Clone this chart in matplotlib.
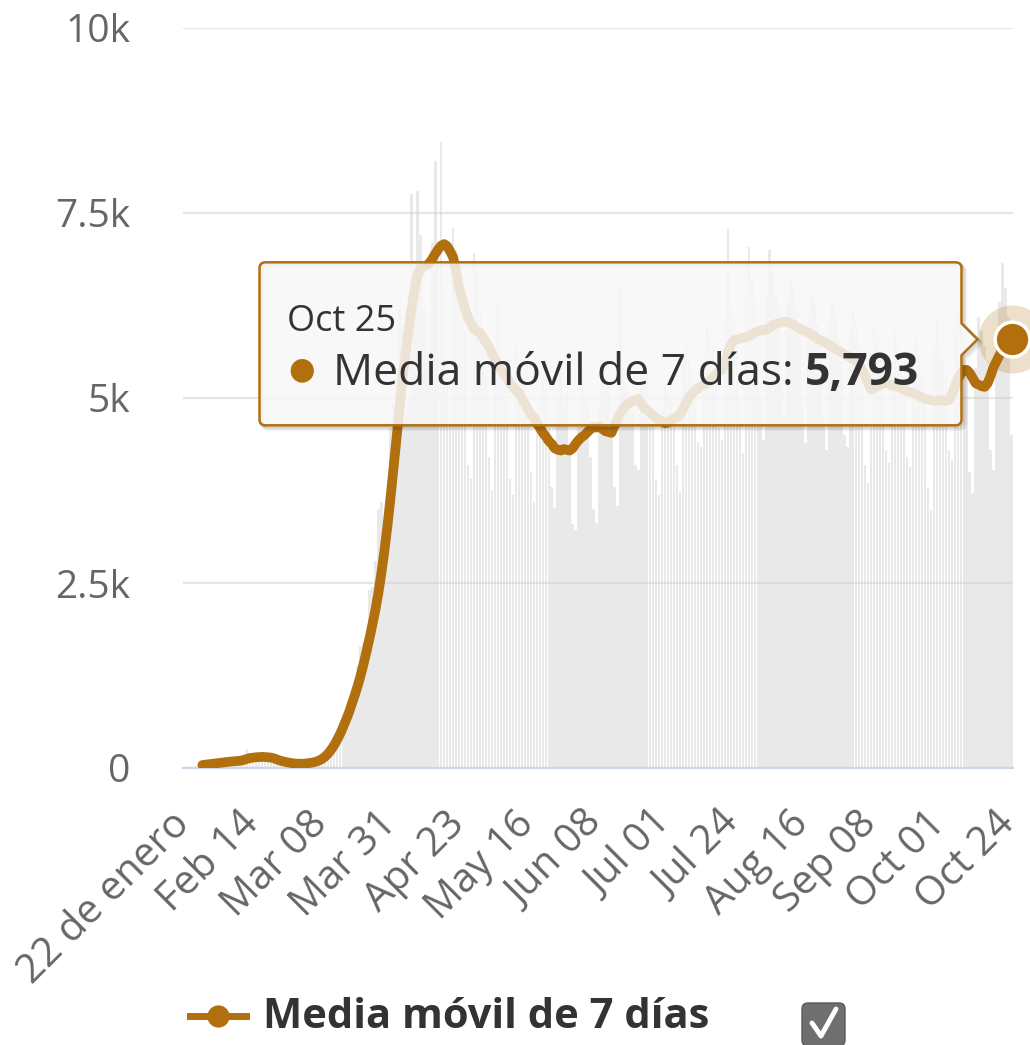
import numpy as np
import matplotlib
matplotlib.use('Agg')
import matplotlib.pyplot as plt
import matplotlib.dates as mdates
from matplotlib.path import Path
from matplotlib.patches import PathPatch, FancyBboxPatch
from matplotlib.transforms import IdentityTransform, ScaledTranslation

plt.rcParams['font.family'] = ['Open Sans', 'DejaVu Sans']

# Datos: fallecidos diarios (barras) y media movil de 7 dias (linea)
fechas = np.arange(np.datetime64('2020-01-22'), np.datetime64('2020-10-26'))

muertes_diarias = [
    17, 8, 16, 15, 24, 26, 26,
    38, 43, 46, 45, 57, 64, 66,
    73, 73, 86, 89, 97, 108, 97,
    254, 121, 143, 142, 105, 98, 136,
    115, 118, 109, 97, 150, 71, 64,
    37, 58, 67, 72, 66, 70, 86,
    84, 98, 109, 103, 101, 228, 208,
    272, 327, 422, 387, 453, 636, 755,
    968, 1080, 1380, 1650, 1700, 1750, 2400,
    2450, 2800, 3500, 3600, 3300, 3450, 4600,
    4950, 5400, 6200, 5900, 4800, 5000, 7750,
    6500, 7800, 7200, 6200, 5600, 5500, 7100,
    8200, 7000, 8460, 6500, 5300, 4700, 7300,
    7000, 6700, 6300, 5900, 4100, 3900, 6960,
    6700, 6200, 5900, 5300, 4200, 3760, 5500,
    6300, 5700, 5300, 5100, 3900, 3690, 5700,
    5400, 5200, 5300, 4900, 4000, 3600, 4700,
    5000, 5200, 5300, 4600, 3800, 3510, 4900,
    5400, 4900, 5100, 4300, 3300, 3220, 4700,
    5400, 5000, 4900, 4200, 3500, 3310, 4900,
    5200, 5100, 5200, 4600, 3800, 3540, 6500,
    5400, 5100, 5000, 4800, 4100, 4030, 5300,
    5200, 5300, 4800, 4700, 3900, 3690, 4900,
    5200, 5100, 5000, 4800, 4100, 3730, 5500,
    5700, 5500, 5400, 5200, 4400, 4340, 5600,
    6000, 5800, 5700, 5500, 4600, 4430, 6000,
    7280, 6200, 6100, 5900, 4900, 4260, 6400,
    7040, 6600, 6300, 5900, 5000, 4430, 6400,
    7000, 6700, 6400, 6200, 5200, 4700, 6300,
    6600, 6500, 6200, 5900, 4900, 4390, 6100,
    6400, 6300, 6000, 5700, 4700, 4300, 6000,
    6300, 6100, 5800, 5500, 4500, 4340, 5900,
    6200, 6000, 5700, 5400, 4100, 3850, 4600,
    6000, 5800, 5600, 5400, 4300, 4120, 5500,
    5900, 5700, 5400, 5300, 4200, 4070, 5500,
    5800, 5600, 5300, 5200, 3800, 3490, 5700,
    6100, 5700, 5500, 5300, 4300, 4160, 5900,
    6200, 6000, 5800, 5400, 4000, 3720, 5400,
    6100, 5900, 5700, 5500, 4300, 4030, 5900,
    6300, 6820, 6480, 6100, 4500,
]

# la media movil empieza el 28 de enero
media_movil = [
    40, 45, 50, 55, 60, 65, 70,
    75, 80, 85, 88, 92, 96, 100,
    110, 125, 135, 140, 145, 148, 150,
    148, 145, 140, 130, 115, 100, 90,
    80, 72, 65, 60, 58, 57, 58,
    62, 68, 75, 85, 100, 120, 150,
    190, 240, 300, 370, 450, 540, 640,
    740, 860, 980, 1110, 1250, 1410, 1580,
    1760, 1950, 2150, 2380, 2650, 2950, 3280,
    3650, 4050, 4450, 4850, 5250, 5600, 5900,
    6200, 6450, 6650, 6750, 6780, 6790, 6820,
    6880, 6950, 7010, 7060, 7080, 7050, 6980,
    6900, 6700, 6480, 6350, 6200, 6080, 6000,
    5930, 5900, 5880, 5820, 5750, 5690, 5600,
    5520, 5450, 5380, 5320, 5280, 5200, 5150,
    5100, 5070, 5000, 4920, 4850, 4780, 4740,
    4660, 4600, 4530, 4480, 4420, 4380, 4320,
    4300, 4290, 4310, 4300, 4290, 4320, 4380,
    4430, 4470, 4500, 4540, 4580, 4610, 4600,
    4620, 4580, 4550, 4540, 4530, 4620, 4720,
    4800, 4860, 4900, 4930, 4960, 4970, 4990,
    4920, 4860, 4840, 4800, 4760, 4730, 4700,
    4680, 4660, 4670, 4700, 4720, 4740, 4780,
    4850, 4930, 5010, 5060, 5100, 5130, 5160,
    5180, 5200, 5240, 5280, 5320, 5360, 5380,
    5480, 5600, 5720, 5780, 5790, 5800, 5810,
    5820, 5840, 5860, 5880, 5900, 5910, 5920,
    5920, 5950, 5980, 6000, 6010, 6020, 6030,
    6030, 6010, 5990, 5960, 5940, 5920, 5900,
    5880, 5860, 5830, 5800, 5780, 5760, 5740,
    5710, 5690, 5660, 5640, 5610, 5590, 5570,
    5550, 5520, 5500, 5450, 5380, 5300, 5200,
    5110, 5130, 5160, 5180, 5200, 5200, 5190,
    5170, 5160, 5150, 5130, 5110, 5090, 5080,
    5070, 5050, 5030, 5010, 4990, 4980, 4970,
    4960, 4960, 4970, 4970, 4960, 4970, 5050,
    5150, 5250, 5330, 5380, 5380, 5340, 5270,
    5200, 5180, 5160, 5150, 5200, 5300, 5420,
    5500, 5580, 5650, 5710, 5760, 5793,
]

etiquetas_x = ['22 de enero', 'Feb 14', 'Mar 08', 'Mar 31', 'Apr 23', 'May 16',
               'Jun 08', 'Jul 01', 'Jul 24', 'Aug 16', 'Sep 08', 'Oct 01', 'Oct 24']
ticks_y = [0, 2500, 5000, 7500, 10000]
etiquetas_y = ['0', '2.5k', '5k', '7.5k', '10k']
nombre_serie = 'Media móvil de 7 días'
fecha_tooltip = 'Oct 25'
valor_tooltip = '5,793'

MARRON = '#b16f0e'
GRIS_TXT = '#666666'
W, H = 1030, 1045

x = mdates.date2num(fechas)
x_media = x[len(x) - len(media_movil):]

fig = plt.figure(figsize=(W / 100, H / 100), dpi=100)
ax = fig.add_axes([183 / W, (H - 768) / H, 830 / W, 740 / H])

ax.bar(x, muertes_diarias, width=0.82, color='#cfcfcf', alpha=0.45, linewidth=0, zorder=2)
ax.plot(x_media, media_movil, color=MARRON, lw=7, solid_capstyle='round',
        solid_joinstyle='round', zorder=3)

# punto resaltado
ax.plot(x_media[-1], media_movil[-1], 'o', ms=49, color=MARRON, alpha=0.22, mew=0,
        clip_on=False, zorder=4)
ax.plot(x_media[-1], media_movil[-1], 'o', ms=25, mfc=MARRON, mec='white', mew=2.5,
        clip_on=False, zorder=5)

ax.set_xlim(x[0] - 0.5, x[-1] + 0.5)
ax.set_ylim(0, 10000)
ax.set_yticks(ticks_y)
ax.set_yticklabels(etiquetas_y)
ax.set_xticks(x[::23])
ax.set_xticklabels(etiquetas_x, rotation=45, ha='right', va='center', rotation_mode='anchor')
ax.tick_params(axis='y', length=0, pad=38, labelsize=28, labelcolor=GRIS_TXT)
ax.tick_params(axis='x', length=0, pad=36, labelsize=29, labelcolor=GRIS_TXT)
for lab in ax.get_xticklabels():
    lab.set_transform(lab.get_transform() + ScaledTranslation(0.0, 0, fig.dpi_scale_trans))

ax.grid(axis='y', color='#e6e6e6', lw=1.6, zorder=1)
ax.set_axisbelow(True)
for s in ['top', 'right', 'left']:
    ax.spines[s].set_visible(False)
ax.spines['bottom'].set_color('#ccd6eb')
ax.spines['bottom'].set_linewidth(1.6)
ax.spines['bottom'].set_zorder(2.5)

# tooltip
fig.canvas.draw()
renderer = fig.canvas.get_renderer()
px, py = ax.transData.transform((x_media[-1], media_movil[-1]))
L, R = px - 752, px - 50
T, B = py + 77, py - 86
tip = px - 34
r = 6
verts = [(L + r, T), (R - r, T), (R, T), (R, T - r), (R, py + 16), (tip, py), (R, py - 16),
         (R, B + r), (R, B), (R - r, B), (L + r, B), (L, B), (L, B + r), (L, T - r), (L, T),
         (L + r, T), (L + r, T)]
codes = [Path.MOVETO, Path.LINETO, Path.CURVE3, Path.CURVE3, Path.LINETO, Path.LINETO,
         Path.LINETO, Path.LINETO, Path.CURVE3, Path.CURVE3, Path.LINETO, Path.CURVE3,
         Path.CURVE3, Path.LINETO, Path.CURVE3, Path.CURVE3, Path.CLOSEPOLY]
camino = Path(verts, codes)
for off, a in [(4, 0.05), (2.5, 0.07), (1.2, 0.09)]:
    sombra = PathPatch(camino, facecolor='none', edgecolor=(0, 0, 0, a), lw=2.5,
                       transform=IdentityTransform() + ScaledTranslation(off / 100, -off / 100, fig.dpi_scale_trans))
    fig.patches.append(sombra)
caja = PathPatch(camino, facecolor=(0.969, 0.969, 0.969, 0.86), edgecolor=MARRON, lw=1.8,
                 transform=IdentityTransform())
fig.patches.append(caja)

fig.text(px - 725, py + 8, fecha_tooltip, transform=IdentityTransform(), fontsize=26,
         color='#333333', va='baseline', ha='left')
fig.text(px - 710, py - 31, '●', transform=IdentityTransform(), fontsize=22,
         color=MARRON, va='center', ha='center', family=['DejaVu Sans'])
t1 = fig.text(px - 679, py - 46, nombre_serie + ': ', transform=IdentityTransform(),
              fontsize=32, color='#333333', va='baseline', ha='left')
x_fin = t1.get_window_extent(renderer).x1
fig.text(x_fin, py - 46, valor_tooltip, transform=IdentityTransform(), fontsize=32,
         color='#333333', va='baseline', ha='left', fontweight='bold')

# leyenda
ley_y = H - 1016
fig.lines.append(plt.Line2D([190, 246], [ley_y, ley_y], color=MARRON, lw=5,
                            transform=IdentityTransform()))
fig.lines.append(plt.Line2D([218], [ley_y], marker='o', ms=16, color=MARRON, mew=0,
                            transform=IdentityTransform()))
fig.text(263, H - 1028, nombre_serie, transform=IdentityTransform(), fontsize=30,
         fontweight='bold', color='#333333', va='baseline', ha='left')
check = FancyBboxPatch((802, H - 1046), 43, 43, boxstyle='round,pad=0,rounding_size=6',
                       facecolor='#6f6f6f', edgecolor='#5a5a5a', lw=1,
                       transform=IdentityTransform())
fig.patches.append(check)
fig.lines.append(plt.Line2D([812, 821, 836], [H - 1023, H - 1036, H - 1009], color='white',
                            lw=3.5, solid_capstyle='round', transform=IdentityTransform()))

fig.savefig('out.png', dpi=100)
